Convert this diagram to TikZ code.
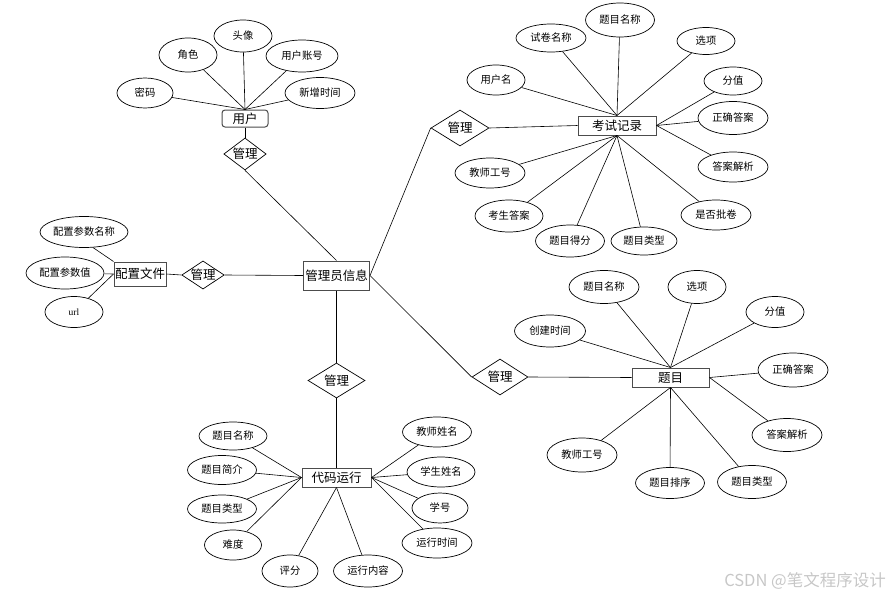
\documentclass[tikz,border=0pt]{standalone}
\usepackage{fontspec}
\setmainfont{Noto Sans CJK SC}
\newfontfamily\urlfont{Liberation Serif}
\usetikzlibrary{shapes.geometric}
\tikzset{
  attr/.style={ellipse,draw=black,line width=0.7pt,inner sep=0pt,font=\fontsize{10.3}{12}\selectfont},
  ent/.style={rectangle,draw=black!70,line width=1pt,inner sep=0pt,fill=white,font=\fontsize{12.5}{14}\selectfont},
  rel/.style={diamond,draw=black,line width=0.7pt,inner sep=0pt,aspect=1.5,font=\fontsize{12.5}{14}\selectfont},
  ln/.style={draw=black,line width=0.6pt}
}
\newcommand{\at}[6]{\node[attr,minimum width=#4pt,minimum height=#5pt] (#1) at (#2,#3) {#6};}
\begin{document}
\begin{tikzpicture}[x=1pt,y=-1pt]
\useasboundingbox (0,0) rectangle (892,597);
% ---------- entities ----------
\node[ent,minimum width=66pt,minimum height=29pt] (admin) at (336.5,275.5) {管理员信息};
\node[ent,rounded corners=3pt,minimum width=46pt,minimum height=17pt] (user) at (245,118.5) {用户};
\node[ent,minimum width=52pt,minimum height=24pt] (cfg) at (140,274) {配置文件};
\node[ent,minimum width=78pt,minimum height=19pt] (exam) at (617,125.5) {考试记录};
\node[ent,minimum width=77pt,minimum height=19pt] (q) at (670.5,377.5) {题目};
\node[ent,minimum width=69pt,minimum height=19pt] (code) at (336.5,477.5) {代码运行};
% ---------- relations ----------
\node[rel,minimum width=40pt,minimum height=32pt] (r1) at (245,154) {管理};
\node[rel,minimum width=40pt,minimum height=27pt] (r2) at (203,275) {管理};
\node[rel,minimum width=58pt,minimum height=36pt] (r3) at (460,128) {管理};
\node[rel,minimum width=56pt,minimum height=36pt] (r4) at (500,377) {管理};
\node[rel,minimum width=57pt,minimum height=35pt] (r5) at (336.5,380.5) {管理};
% ---------- user attributes ----------
\at{u1}{145}{93}{56}{30}{密码}
\at{u2}{188}{55}{58}{34}{角色}
\at{u3}{243}{36}{58}{32}{头像}
\at{u4}{302}{56}{72}{32}{用户账号}
\at{u5}{320}{93}{70}{31}{新增时间}
\foreach \a in {u1,u2,u3,u4,u5} \draw[ln] (\a) -- (user.north);
% ---------- config attributes ----------
\at{c1}{84}{232}{88}{31}{配置参数名称}
\at{c2}{65}{273}{78}{32}{配置参数值}
\at{c3}{74}{312}{58}{31}{\urlfont\fontsize{9.5}{11}\selectfont url}
\draw[ln] (c1.-60) -- (cfg.north west);
\draw[ln] (c2) -- (cfg.west);
\draw[ln] (c3) -- (cfg.west);
% ---------- exam attributes ----------
\at{e1}{496}{80}{58}{30}{用户名}
\at{e2}{551}{38}{70}{28}{试卷名称}
\at{e3}{620}{20}{69}{34}{题目名称}
\at{e4}{706}{41}{58}{27}{选项}
\at{e5}{733}{81}{58}{28}{分值}
\at{e6}{733}{118}{70}{33}{正确答案}
\at{e7}{733}{167}{70}{30}{答案解析}
\at{e8}{716}{215}{70}{30}{是否批卷}
\at{e9}{644}{241}{66}{28}{题目类型}
\at{e10}{570}{241}{69}{32}{题目得分}
\at{e11}{509}{216}{68}{32}{考生答案}
\at{e12}{490}{173}{70}{30}{教师工号}
\foreach \a in {e1,e2,e3,e4} \draw[ln] (\a) -- (exam.north);
\foreach \a in {e5,e6,e7} \draw[ln] (\a) -- (exam.east);
\foreach \a in {e8,e9,e10,e11,e12} \draw[ln] (\a) -- (exam.south);
% ---------- question attributes ----------
\at{q1}{550}{331}{71}{32}{创建时间}
\at{q2}{604}{287}{70}{33}{题目名称}
\at{q3}{697}{287}{58}{33}{选项}
\at{q4}{775}{312}{58}{31}{分值}
\at{q5}{793}{370}{70}{34}{正确答案}
\at{q6}{787}{435}{70}{33}{答案解析}
\at{q7}{752}{482}{69}{33}{题目类型}
\at{q8}{670}{483}{69}{31}{题目排序}
\at{q9}{582}{455}{70}{34}{教师工号}
\foreach \a in {q1,q2,q3,q4} \draw[ln] (\a) -- (q.north);
\foreach \a in {q5,q6} \draw[ln] (\a) -- (q.east);
\foreach \a in {q7,q8,q9} \draw[ln] (\a) -- (q.south);
% ---------- code attributes ----------
\at{k1}{233}{436}{68}{28}{题目名称}
\at{k2}{222}{470}{69}{29}{题目简介}
\at{k3}{222}{509}{69}{28}{题目类型}
\at{k4}{233}{545}{57}{30}{难度}
\at{k5}{290}{571}{56}{32}{评分}
\at{k6}{368}{571}{69}{32}{运行内容}
\at{k7}{437}{432}{69}{30}{教师姓名}
\at{k8}{441}{472}{68}{30}{学生姓名}
\at{k9}{440}{508}{56}{30}{学号}
\at{k10}{437}{543}{70}{30}{运行时间}
\foreach \a in {k1,k2,k3,k4} \draw[ln] (\a) -- (code.west);
\foreach \a in {k5,k6} \draw[ln] (\a) -- (code.south);
\foreach \a in {k7,k8,k9,k10} \draw[ln] (\a) -- (code.east);
% ---------- relation links ----------
\draw[ln] (user.south) -- (r1.north);
\draw[ln] (r1.south) -- (admin.north);
\draw[ln] (cfg.east) -- (r2.west);
\draw[ln] (r2.east) -- (admin.west);
\draw[ln] (admin.east) -- (r3.west);
\draw[ln] (r3.east) -- (exam.west);
\draw[ln] (admin.east) -- (r4.west);
\draw[ln] (r4.east) -- (q.west);
\draw[ln] (admin.south) -- (r5.north);
\draw[ln] (r5.south) -- (code.north);
% ---------- watermark ----------
\node[text=black!22,font=\fontsize{16.5}{18}\selectfont,inner sep=0pt] (wm) at (805,581) {CSDN @笔文程序设计};
\end{tikzpicture}
\end{document}
